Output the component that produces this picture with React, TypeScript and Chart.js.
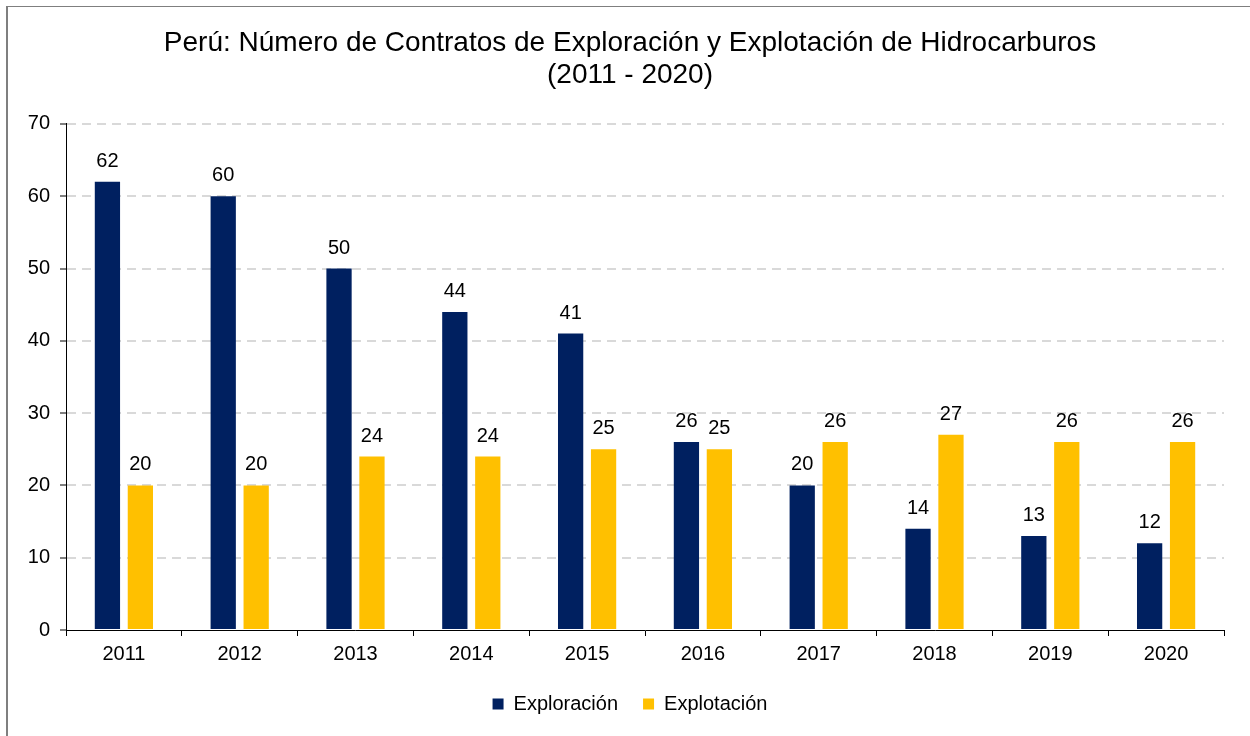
import React, { useEffect, useRef } from "react";
import { Chart, registerables } from "chart.js";

Chart.register(...registerables);

const titleLines = [
  "Perú: Número de Contratos de Exploración y Explotación de Hidrocarburos",
  "(2011 - 2020)",
];
const categories = ["2011", "2012", "2013", "2014", "2015", "2016", "2017", "2018", "2019", "2020"];
const exploracion = [62, 60, 50, 44, 41, 26, 20, 14, 13, 12];
const explotacion = [20, 20, 24, 24, 25, 25, 26, 27, 26, 26];
const seriesNames = ["Exploración", "Explotación"];
const yMin = 0;
const yMax = 70;
const yStep = 10;

const FONT = "'Liberation Sans', Arial, Helvetica, sans-serif";

const dataLabelPlugin = {
  id: "dataLabels",
  afterDatasetsDraw(chart: any) {
    const ctx = chart.ctx;
    ctx.save();
    ctx.font = `20px ${FONT}`;
    ctx.fillStyle = "#000";
    ctx.textAlign = "center";
    ctx.textBaseline = "alphabetic";
    chart.data.datasets.forEach((ds: any, i: number) => {
      const meta = chart.getDatasetMeta(i);
      meta.data.forEach((bar: any, j: number) => {
        ctx.fillText(String(ds.data[j]), bar.x, bar.y - 15);
      });
    });
    ctx.restore();
  },
};

// let the y tick labels draw past the narrow y-axis box (no clipping)
const unclipYLabels = {
  id: "unclipYLabels",
  afterLayout(chart: any) {
    const y = chart.scales.y;
    if (y) y.left = 0;
  },
};

export default function App() {
  const canvasRef = useRef<HTMLCanvasElement | null>(null);

  useEffect(() => {
    if (!canvasRef.current) return;
    Chart.defaults.font.family = FONT;
    Chart.defaults.color = "#000";
    const chart = new Chart(canvasRef.current, {
      type: "bar",
      data: {
        labels: categories,
        datasets: [
          {
            label: seriesNames[0],
            data: exploracion,
            backgroundColor: "#002060",
            categoryPercentage: 0.569,
            barPercentage: 0.767,
          },
          {
            label: seriesNames[1],
            data: explotacion,
            backgroundColor: "#FFC000",
            categoryPercentage: 0.569,
            barPercentage: 0.767,
          },
        ],
      },
      options: {
        responsive: false,
        animation: false,
        layout: { padding: { left: 36, right: 26, top: 0, bottom: 12 } },
        plugins: {
          title: {
            display: true,
            text: titleLines,
            color: "#000",
            font: { size: 28, weight: "normal", lineHeight: 1.13 },
            padding: { top: 27.5, bottom: 33.2 },
          },
          legend: {
            position: "bottom",
            labels: {
              boxWidth: 11,
              boxHeight: 11,
              padding: 25,
              color: "#000",
              font: { size: 20 },
            },
          },
          tooltip: { enabled: false },
        },
        scales: {
          x: {
            grid: {
              drawOnChartArea: false,
              tickLength: 6,
              color: "#000",
              lineWidth: 1,
            },
            border: { color: "#000", width: 1 },
            ticks: { color: "#000", font: { size: 20 }, padding: 6 },
            afterFit: (s: any) => {
              s.height = 39;
            },
          },
          y: {
            min: yMin,
            max: yMax,
            ticks: { stepSize: yStep, padding: 10, color: "#000", font: { size: 20 } },
            grid: {
              color: (c: any) => (c.tick && c.tick.value === 0 ? "rgba(0,0,0,0)" : "#d9d9d9"),
              lineWidth: 2,
              tickLength: 6,
              tickColor: "#000",
              tickWidth: 1,
            },
            border: { color: "#000", width: 1, dash: [9, 6] },
            afterFit: (s: any) => {
              s.width = 30;
            },
          },
        },
      } as any,
      plugins: [dataLabelPlugin, unclipYLabels],
    });
    return () => chart.destroy();
  }, []);

  return (
    <div
      style={{
        position: "fixed",
        left: 0,
        top: 0,
        width: 1250,
        height: 736,
        overflow: "hidden",
        background: "#fff",
      }}
    >
      <div
        style={{
          position: "absolute",
          left: 6,
          top: 6,
          width: 1260,
          height: 760,
          border: "1px solid #7f7f7f",
          borderLeftWidth: 2,
          boxSizing: "border-box",
        }}
      />
      <canvas
        ref={canvasRef}
        width={1250}
        height={736}
        style={{ position: "absolute", left: 0, top: 0, display: "block" }}
      />
    </div>
  );
}
